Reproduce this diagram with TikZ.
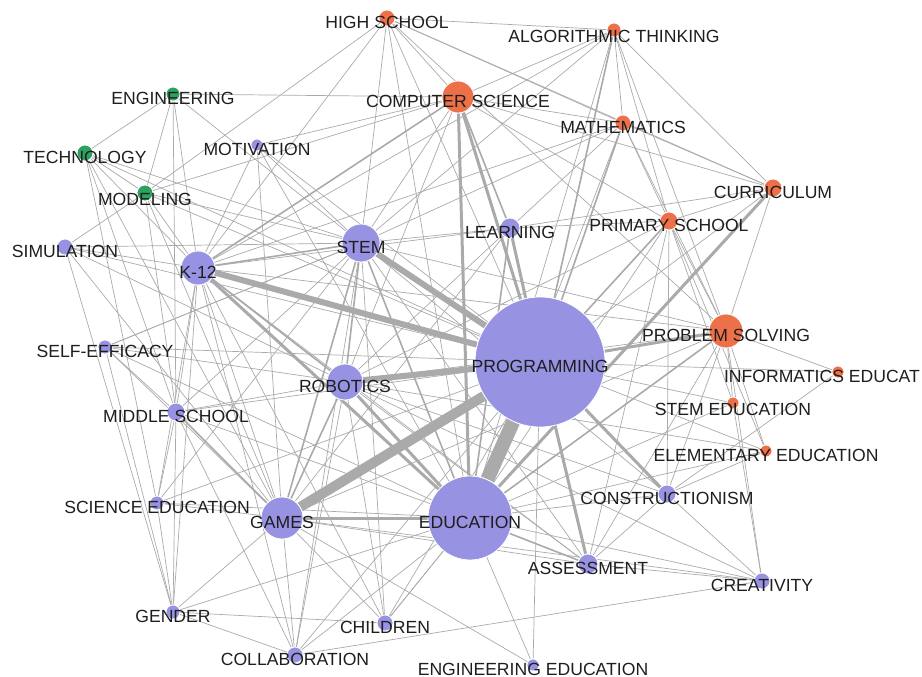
\documentclass[tikz,border=0pt]{standalone}
\usepackage{fontspec}
\setsansfont{Liberation Sans}
\usepackage{tikz}
\usetikzlibrary{backgrounds}
\definecolor{kwpurple}{RGB}{152,146,226}
\definecolor{kworange}{RGB}{238,112,72}
\definecolor{kwgreen}{RGB}{46,160,96}
\definecolor{kwtext}{RGB}{30,30,30}
\definecolor{kwlink}{RGB}{170,170,170}
\tikzset{%
  kwnode/.style={circle, draw=white, line width=0.8pt, inner sep=0pt},
  purplenode/.style={kwnode, fill=kwpurple},
  orangenode/.style={kwnode, fill=kworange},
  greennode/.style={kwnode, fill=kwgreen},
  kwlabel/.style={text=kwtext, font=\sffamily\fontsize{17.6}{20}\selectfont, inner sep=0pt, yshift=-4pt},
  link/.style={draw=kwlink, line width=0.7pt}
}

\begin{document}
\begin{tikzpicture}[x=1pt, y=-1pt]
  \useasboundingbox (0,0) rectangle (922,677);

  % orange cluster
  \node[orangenode, minimum size=16pt, label={[kwlabel]center:HIGH SCHOOL}] (hs) at (387,18) {};
  \node[orangenode, minimum size=14pt, label={[kwlabel, yshift=-2pt]center:ALGORITHMIC THINKING}] (alg) at (614,30) {};
  \node[orangenode, minimum size=32pt, label={[kwlabel]center:COMPUTER SCIENCE}] (cs) at (458,97) {};
  \node[orangenode, minimum size=16pt, label={[kwlabel]center:MATHEMATICS}] (math) at (623,123) {};
  \node[orangenode, minimum size=18pt, label={[kwlabel]center:CURRICULUM}] (curr) at (773,188) {};
  \node[orangenode, minimum size=18pt, label={[kwlabel]center:PRIMARY SCHOOL}] (prim) at (669,221) {};
  \node[orangenode, minimum size=34pt, label={[kwlabel]center:PROBLEM SOLVING}] (ps) at (726,331) {};
  \node[orangenode, minimum size=12pt, label={[kwlabel, xshift=-16pt]center:INFORMATICS EDUCAT}] (inf) at (838,372) {};
  \node[orangenode, minimum size=12pt, label={[kwlabel, yshift=-2pt]center:STEM EDUCATION}] (stemed) at (733,403) {};
  \node[orangenode, minimum size=12pt, label={[kwlabel]center:ELEMENTARY EDUCATION}] (elem) at (766,451) {};

  % green cluster
  \node[greennode, minimum size=14pt, label={[kwlabel]center:ENGINEERING}] (eng) at (173,94) {};
  \node[greennode, minimum size=16pt, label={[kwlabel]center:TECHNOLOGY}] (tech) at (85,153) {};
  \node[greennode, minimum size=16pt, label={[kwlabel, yshift=-2pt]center:MODELING}] (model) at (145,193) {};

  % purple cluster
  \node[purplenode, minimum size=12pt, label={[kwlabel]center:MOTIVATION}] (motiv) at (257,145) {};
  \node[purplenode, minimum size=16pt, label={[kwlabel]center:SIMULATION}] (sim) at (65,247) {};
  \node[purplenode, minimum size=34pt, label={[kwlabel]center:K-12}] (k12) at (198,268) {};
  \node[purplenode, minimum size=38pt, label={[kwlabel]center:STEM}] (stem) at (361,243) {};
  \node[purplenode, minimum size=20pt, label={[kwlabel]center:LEARNING}] (learn) at (510,228) {};
  \node[purplenode, minimum size=130pt, label={[kwlabel]center:PROGRAMMING}] (prog) at (540,362) {};
  \node[purplenode, minimum size=14pt, label={[kwlabel]center:SELF-EFFICACY}] (selfe) at (105,347) {};
  \node[purplenode, minimum size=36pt, label={[kwlabel]center:ROBOTICS}] (rob) at (345,382) {};
  \node[purplenode, minimum size=18pt, label={[kwlabel]center:MIDDLE SCHOOL}] (mid) at (176,412) {};
  \node[purplenode, minimum size=14pt, label={[kwlabel]center:SCIENCE EDUCATION}] (scied) at (157,503) {};
  \node[purplenode, minimum size=42pt, label={[kwlabel]center:GAMES}] (games) at (282,518) {};
  \node[purplenode, minimum size=84pt, label={[kwlabel]center:EDUCATION}] (edu) at (470,518) {};
  \node[purplenode, minimum size=18pt, label={[kwlabel]center:CONSTRUCTIONISM}] (constr) at (667,494) {};
  \node[purplenode, minimum size=20pt, label={[kwlabel]center:ASSESSMENT}] (assess) at (588,564) {};
  \node[purplenode, minimum size=16pt, label={[kwlabel]center:CREATIVITY}] (creat) at (762,581) {};
  \node[purplenode, minimum size=14pt, label={[kwlabel]center:GENDER}] (gender) at (173,612) {};
  \node[purplenode, minimum size=16pt, label={[kwlabel]center:CHILDREN}] (child) at (385,623) {};
  \node[purplenode, minimum size=16pt, label={[kwlabel]center:COLLABORATION}] (collab) at (295,655) {};
  \node[purplenode, minimum size=12pt, label={[kwlabel]center:ENGINEERING EDUCATION}] (engedu) at (533,665) {};

  \begin{scope}[on background layer]
    % strong links
    \draw[link, line width=14pt] (prog) -- (edu);
    \draw[link, line width=10pt] (games) -- (prog);
    \foreach \a/\b in {k12/prog, rob/prog, stem/prog}
      \draw[link, line width=6pt] (\a) -- (\b);
    \foreach \a/\b in {ps/prog, cs/edu, cs/prog, k12/edu, rob/edu, games/edu, learn/prog, curr/edu, prog/assess, prog/constr}
      \draw[link, line width=3pt] (\a) -- (\b);
    \foreach \a/\b in {stem/edu, edu/ps, math/prog, alg/prog, prim/prog, stem/rob, k12/stem, k12/rob, stem/games, rob/games, k12/cs, edu/assess, learn/edu, mid/games, cs/learn}
      \draw[link, line width=1.6pt] (\a) -- (\b);
    % weak links
    \foreach \a/\b in {hs/cs, hs/stem, hs/prog, hs/edu, hs/alg, hs/math, hs/curr, hs/ps, hs/k12, hs/model,
        alg/cs, alg/edu, alg/math, alg/prim, alg/ps, alg/curr, alg/stem, alg/k12,
        math/cs, math/edu, math/stem, math/prim, math/curr, math/ps, math/k12, math/learn,
        curr/cs, curr/prog, curr/learn, curr/ps, curr/prim,
        prim/edu, prim/ps, prim/stemed, prim/elem, prim/cs, prim/learn, prim/rob, prim/constr, prim/assess,
        ps/inf, ps/stemed, ps/elem, ps/constr, ps/creat, ps/stem, ps/k12, ps/rob, ps/games, ps/assess,
        inf/prog, inf/constr, stemed/prog, stemed/edu, stemed/creat, elem/prog, elem/edu, elem/rob, elem/constr,
        eng/cs, eng/tech, eng/model, eng/k12, eng/stem, eng/mid,
        tech/k12, tech/stem, tech/prog, tech/mid, tech/games, tech/model, tech/scied,
        model/sim, model/stem, model/prog, model/k12, model/mid, model/games, model/cs,
        motiv/cs, motiv/prog, motiv/stem, motiv/edu, motiv/games, motiv/k12,
        sim/stem, sim/k12, sim/prog, sim/games, sim/rob, sim/gender,
        k12/games, k12/mid, k12/scied, k12/gender, k12/collab, k12/child, k12/learn, k12/assess,
        stem/learn, stem/cs, stem/mid, stem/scied, stem/child, stem/collab, stem/assess, stem/constr, stem/selfe,
        learn/games, learn/rob, learn/assess,
        selfe/prog, selfe/edu, selfe/games, selfe/gender, selfe/rob, selfe/mid, selfe/stem,
        rob/mid, rob/child, rob/collab, rob/assess, rob/constr, rob/creat, rob/cs,
        mid/prog, mid/edu, mid/gender, mid/scied, mid/collab,
        scied/prog, scied/edu, scied/games, scied/gender,
        games/gender, games/collab, games/child, games/assess, games/creat, games/engedu,
        edu/constr, edu/creat, edu/child, edu/engedu, edu/collab, edu/gender,
        constr/creat, constr/assess, assess/creat, creat/collab,
        child/prog, child/edu, child/gender, collab/gender, collab/prog, engedu/prog}
      \draw[link] (\a) -- (\b);
  \end{scope}
\end{tikzpicture}
\end{document}
